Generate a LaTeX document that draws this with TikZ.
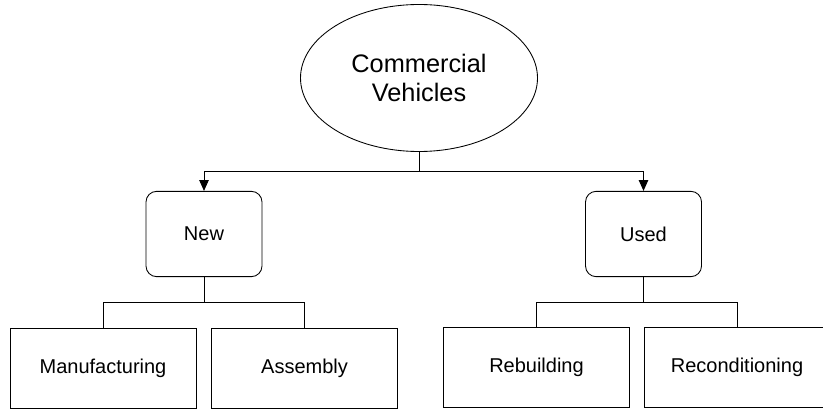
\documentclass[tikz,border=0pt]{standalone}
\usepackage{fontspec}
\setmainfont{Liberation Sans}
\usepackage{tikz}
\usetikzlibrary{shapes.geometric,arrows.meta}

\begin{document}
\begin{tikzpicture}[x=0.75pt, y=-0.75pt, line width=0.65pt,
	topnode/.style={draw, ellipse, minimum width=177.75pt, minimum height=110.25pt, inner sep=0pt,
		align=center, font=\fontsize{19}{22}\selectfont},
	kindbox/.style={draw, rounded corners=8pt, minimum width=87pt, minimum height=64pt, inner sep=0pt,
		font=\fontsize{15}{18}\selectfont},
	workbox/.style={draw, minimum width=139.5pt, minimum height=60pt, inner sep=0pt,
		font=\fontsize{15}{18}\selectfont},
	down/.style={-{Triangle[length=8pt,width=7pt]}}]
	\useasboundingbox (0,0) rectangle (823,409);
	\node[topnode] (cv) at (419,78) {Commercial\\Vehicles};
	\node[kindbox] (new) at (204,234) {New};
	\node[kindbox] (used) at (643.5,234) {Used};
	\node[workbox] (manuf) at (103,368.5) {Manufacturing};
	\node[workbox] (assem) at (304.5,368.5) {Assembly};
	\node[workbox] (rebuild) at (536.5,367.5) {Rebuilding};
	\node[workbox] (recond) at (737,367.5) {Reconditioning};
	% connectors
	\coordinate (split) at (419,171);
	\draw (cv.south) -- (split);
	\draw[down] (split) -| (new.north);
	\draw[down] (split) -| (used.north);
	\coordinate (nsplit) at (204,302);
	\coordinate (usplit) at (643.5,302);
	\draw (new.south) -- (nsplit);
	\draw (nsplit) -| (manuf.north);
	\draw (nsplit) -| (assem.north);
	\draw (used.south) -- (usplit);
	\draw (usplit) -| (rebuild.north);
	\draw (usplit) -| (recond.north);
\end{tikzpicture}
\end{document}
